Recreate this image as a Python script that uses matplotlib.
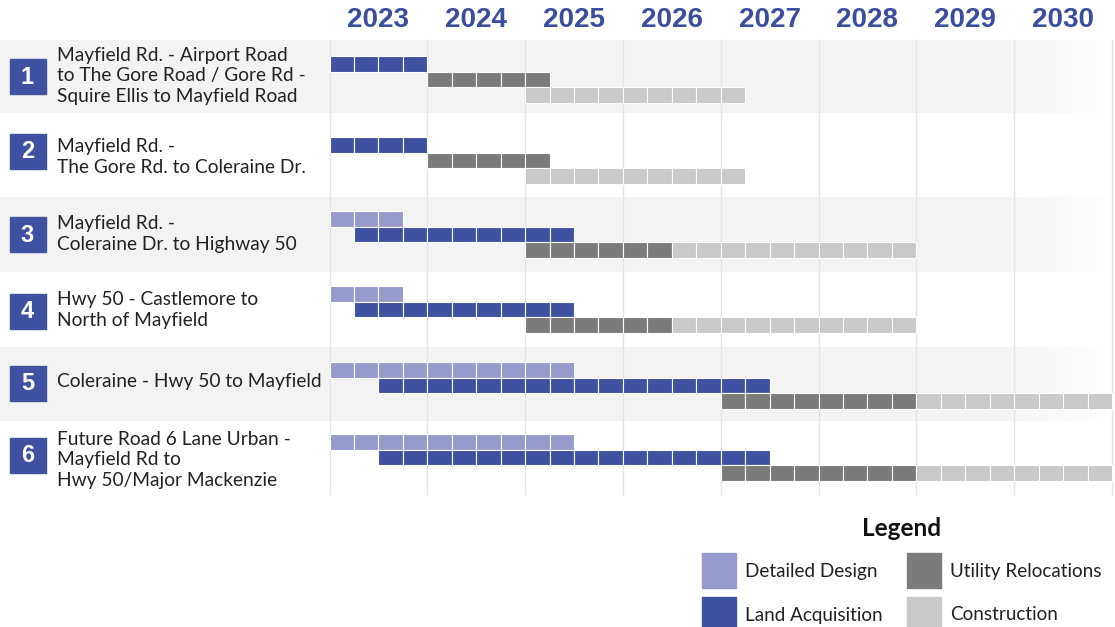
import matplotlib
matplotlib.use("Agg")
import matplotlib.pyplot as plt
import matplotlib.transforms as mtransforms
from matplotlib.patches import Rectangle
import numpy as np

W, H = 1115, 627

years = [2023, 2024, 2025, 2026, 2027, 2028, 2029, 2030]
numbers = ["1", "2", "3", "4", "5", "6"]
projects = [
    "Mayfield Rd. - Airport Road\nto The Gore Road / Gore Rd -\nSquire Ellis to Mayfield Road",
    "Mayfield Rd. -\nThe Gore Rd. to Coleraine Dr.",
    "Mayfield Rd. -\nColeraine Dr. to Highway 50",
    "Hwy 50 - Castlemore to\nNorth of Mayfield",
    "Coleraine - Hwy 50 to Mayfield",
    "Future Road 6 Lane Urban -\nMayfield Rd to\nHwy 50/Major Mackenzie",
]
# (start quarter, end quarter), quarter 0 = 2023 Q1
design = [None, None, (0, 3), (0, 3), (0, 10), (0, 10)]
land = [(0, 4), (0, 4), (1, 10), (1, 10), (2, 18), (2, 18)]
utility = [(4, 9), (4, 9), (8, 14), (8, 14), (16, 24), (16, 24)]
construction = [(8, 17), (8, 17), (14, 24), (14, 24), (24, 32), (24, 32)]

phase_names = ["Detailed Design", "Land Acquisition", "Utility Relocations", "Construction"]
colors = {"Detailed Design": "#979bcb", "Land Acquisition": "#3f51a1",
          "Utility Relocations": "#7b7b7b", "Construction": "#c9c9c9"}
blue = "#3f51a1"
year_blue = "#3b4d9d"

# layout (pixels)
band_tops = [40, 113, 197, 272, 347, 421, 494]
bar_tops = [56, 137, 211, 286, 362, 434]
line_h = 15.5
label_y = [76, 157, 234, 310, 381, 460]
box_y = [76, 151, 234, 311, 383, 455]

fig = plt.figure(figsize=(W / 100, H / 100), dpi=100)
ax = fig.add_axes([0, 0, 1, 1])
ax.axis("off")
pix = mtransforms.Affine2D().scale(1 / W, -1 / H).translate(0, 1) + fig.transFigure

qw = (1112 - 329.5) / 32
xmin, xmax = -329.5 / qw, (W - 329.5) / qw

# alternating bands fading out to the right
xs = np.linspace(xmin, 32.1, 300)
fade = np.clip((32.1 - xs) / 5.0, 0, 1)
for i in range(0, 6, 2):
    img = np.zeros((1, 300, 4))
    img[..., :3] = 0.953
    img[0, :, 3] = fade
    ax.imshow(img, extent=[xmin, 32.1, band_tops[i + 1], band_tops[i]],
              aspect="auto", zorder=0, interpolation="bilinear")

# year grid
for k in range(len(years) + 1):
    ax.plot([4 * k, 4 * k], [band_tops[0], band_tops[-1]], color="#e4e4e4", lw=1, zorder=1)
for k, y in enumerate(years):
    ax.text(4 * k + 2, 20, str(y), ha="center", va="center", fontsize=20,
            fontweight="bold", color=year_blue, family="Liberation Sans")

def cells(span, top, color):
    if span is None:
        return
    s, e = span
    q = np.arange(s, e)
    ax.barh([top + line_h / 2] * len(q), [1] * len(q), left=q, height=line_h,
            color=color, edgecolor="white", linewidth=0.8, zorder=2)

for i in range(6):
    t = bar_tops[i]
    if design[i] is None:
        cells(land[i], t, colors["Land Acquisition"])
        cells(utility[i], t + line_h, colors["Utility Relocations"])
        cells(construction[i], t + 2 * line_h, colors["Construction"])
    else:
        cells(design[i], t, colors["Detailed Design"])
        cells(land[i], t + line_h, colors["Land Acquisition"])
        cells(utility[i], t + 2 * line_h, colors["Utility Relocations"])
        cells(construction[i], t + 2 * line_h, colors["Construction"])

    ax.add_patch(Rectangle((9.5, box_y[i] - 17.5), 36, 35, color=blue, transform=pix, zorder=3))
    ax.text(27.5, box_y[i] + 1, numbers[i], transform=pix, ha="center", va="center",
            color="white", fontsize=17, fontweight="bold", family="Liberation Sans")
    ax.text(57, label_y[i], projects[i], transform=pix, ha="left", va="center",
            fontsize=13.8, color="#222222", family="Lato", linespacing=1.28)

ax.set_xlim(xmin, xmax)
ax.set_ylim(H, 0)

# legend
ax.text(902, 528, "Legend", transform=pix, ha="center", va="center",
        fontsize=17.5, fontweight="bold", color="#111111", family="Lato")
sw = [(702, 553), (702, 597), (907, 553), (907, 597)]
for name, (x, y) in zip(phase_names, sw):
    ax.add_patch(Rectangle((x, y), 34, 35, color=colors[name], transform=pix, clip_on=False))
    ax.text(x + 43, y + 18, name, transform=pix, ha="left", va="center",
            fontsize=13.6, color="#222222", family="Lato")

fig.savefig("out.png", dpi=100)
